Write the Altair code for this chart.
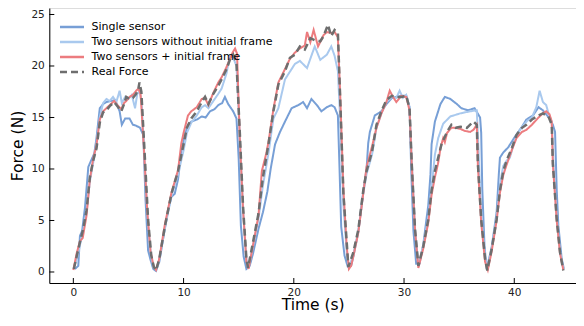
import altair as alt
import pandas as pd

series_names = ["Single sensor", "Two sensors without initial frame",
                "Two sensors + initial frame", "Real Force"]
series_colors = ["#779fd6", "#a9c9ee", "#ec7c7f", "#6e6e6e"]
series_dash = [[1, 0], [1, 0], [1, 0], [7, 4]]
series_width = [2.0, 2.0, 2.0, 2.5]

x_tick_values = [0, 10, 20, 30, 40]
y_tick_values = [0, 5, 10, 15, 20, 25]

single_t = [0.15, 0.45, 0.6, 0.8, 1.06, 1.36, 1.6, 1.9, 2.1, 2.4, 2.7, 3.0, 3.4, 3.8, 4.2, 4.4, 4.7, 5.1, 5.4, 5.7,
            6.05, 6.35, 6.55, 6.78, 7.0, 7.25, 7.5,
            7.8, 8.3, 8.6, 8.9, 9.2, 9.5, 9.8, 10.1, 10.4, 10.7, 11.2, 11.65, 12.0, 12.4, 12.8, 13.15, 13.5, 13.75,
            14.05, 14.5, 14.8, 15.0, 15.2, 15.45, 15.7,
            16.0, 16.3, 16.8, 17.2, 17.6, 17.9, 18.3, 18.75, 19.2, 19.8, 20.4, 20.85, 21.2, 21.6, 22.1, 22.5, 23.0,
            23.4, 23.7, 24.0, 24.15, 24.3, 24.6, 24.9,
            25.2, 25.4, 25.85, 26.3, 26.6, 26.75, 26.9, 27.35, 27.95, 28.4, 28.9, 29.3, 29.75, 30.2, 30.5, 30.65,
            30.85, 31.1,
            31.4, 31.75, 32.2, 32.4, 32.5, 32.8, 33.3, 33.7, 34.2, 34.8, 35.2, 35.8, 36.4, 36.9, 37.0, 37.1, 37.3, 37.5,
            37.95, 38.4, 38.6, 38.7, 39.0, 39.45, 40.1, 40.7, 41.1, 41.7, 42.2, 42.6, 43.2, 43.5, 43.7, 43.85, 44.0,
            44.3, 44.5]
single_f = [0.3, 0.6, 3.5, 4.0, 6.3, 10.2, 10.8, 11.5, 13.0, 15.9, 16.3, 16.5, 16.6, 16.7, 15.6, 14.3, 14.9, 14.9,
            14.3, 14.2, 14.0, 13.3, 7.0, 2.1, 1.2, 0.3, 0.1,
            1.0, 4.2, 6.0, 7.3, 7.6, 9.0, 11.7, 13.2, 14.3, 14.6, 14.8, 15.1, 15.0, 15.6, 15.8, 16.2, 16.4, 17.0,
            16.3, 15.6, 14.9, 11.0, 4.5, 1.5, 0.3,
            0.6, 1.8, 4.2, 5.8, 7.8, 10.0, 12.4, 13.6, 14.6, 15.9, 16.2, 16.5, 15.9, 16.8, 16.2, 15.6, 16.0, 16.2,
            16.0, 15.2, 10.0, 4.4, 1.6, 0.5,
            0.6, 1.5, 3.9, 7.8, 10.0, 12.5, 13.6, 15.2, 15.6, 16.3, 16.9, 17.0, 17.1, 17.1, 16.0, 10.0, 4.0, 0.8,
            0.8, 2.7, 6.5, 9.5, 12.4, 14.6, 16.3, 17.0, 16.8, 16.3, 15.9, 15.7, 15.9, 15.0, 13.5, 8.0, 2.5, 0.3,
            2.4, 5.8, 9.5, 11.1, 11.6, 12.1, 13.2, 14.1, 14.8, 15.2, 16.0, 15.7, 14.9, 14.3, 13.6, 8.0, 4.5, 1.3, 0.3]

light_t = [0.0, 0.3, 0.6, 0.9, 1.2, 1.5, 1.8, 2.1, 2.4, 2.7, 3.0, 3.3, 3.6, 3.9, 4.2, 4.4, 4.7, 5.0, 5.3, 5.6,
           5.8, 6.0, 6.2, 6.45, 6.75, 7.05, 7.3, 7.5,
           7.8, 8.3, 8.9, 9.5, 10.0, 10.3, 10.7, 11.2, 11.65, 11.95, 12.25, 12.7, 13.15, 13.45, 13.9, 14.2, 14.5,
           14.8, 15.1, 15.4, 15.7, 15.9,
           16.3, 16.8, 17.2, 17.7, 18.15, 18.6, 19.2, 19.8, 20.1, 20.55, 21.2, 21.6, 21.9, 22.4, 23.0, 23.4, 23.7,
           24.0, 24.2, 24.5, 24.8, 25.0,
           25.4, 25.85, 26.3, 26.6, 27.1, 27.5, 27.95, 28.4, 28.9, 29.3, 29.6, 29.9, 30.2, 30.5, 30.7, 31.0, 31.3,
           31.75, 32.2, 32.5, 32.8, 33.1, 33.55, 34.2, 35.1, 36.0, 36.6, 36.75, 37.0, 37.35, 37.55,
           37.95, 38.4, 38.7, 39.0, 39.3, 39.6, 40.0, 40.4, 40.8, 41.2, 41.6, 42.0, 42.3, 42.6, 42.9, 43.1, 43.4,
           43.55, 43.85, 44.15, 44.45]
light_f = [0.3, 1.2, 2.6, 4.0, 5.8, 8.8, 10.6, 12.5, 15.0, 16.4, 16.8, 16.6, 17.0, 16.5, 17.6, 16.4, 17.0, 16.8,
           17.2, 15.9, 17.3, 17.5, 16.5, 11.0, 5.0, 1.5, 0.4, 0.2,
           1.2, 4.2, 7.4, 9.5, 11.8, 13.5, 14.5, 15.2, 16.0, 16.2, 15.9, 16.6, 17.3, 17.8, 19.3, 21.0, 20.8, 20.0,
           13.2, 6.0, 1.2, 0.4,
           2.5, 5.2, 8.4, 11.5, 14.9, 15.9, 18.7, 19.7, 20.2, 20.5, 19.8, 21.0, 21.9, 20.6, 21.1, 21.9, 21.0, 19.5,
           15.0, 6.5, 2.0, 0.4,
           1.7, 3.9, 7.6, 9.5, 11.4, 14.0, 15.4, 16.5, 17.0, 16.9, 17.6, 16.9, 17.2, 16.0, 10.8, 4.2, 0.6,
           2.6, 5.3, 8.2, 11.4, 13.0, 14.4, 15.1, 15.4, 15.6, 15.7, 12.0, 5.5, 1.4, 0.3,
           2.3, 5.3, 8.5, 10.3, 10.8, 11.1, 12.6, 13.6, 14.2, 14.7, 15.0, 16.0, 17.6, 16.5, 16.2, 15.4, 14.6, 10.5,
           5.4, 2.0, 0.3]

red_t = [0.0, 0.3, 0.6, 0.85, 1.2, 1.5, 1.8, 2.1, 2.4, 2.7, 3.0, 3.3, 3.7, 4.0, 4.35, 4.6, 4.8, 5.1, 5.4, 5.7,
         5.9, 6.1, 6.4, 6.7, 7.0, 7.3, 7.5,
         7.8, 8.3, 8.9, 9.5, 9.8, 10.0, 10.4, 10.7, 11.2, 11.65, 11.95, 12.25, 12.7, 13.15, 13.45, 13.9, 14.2,
         14.45, 14.67, 14.85, 15.1, 15.4, 15.7, 15.9,
         16.3, 16.8, 17.1, 17.5, 17.7, 18.15, 18.6, 19.2, 19.65, 20.1, 20.55, 21.0, 21.2, 21.5, 21.8, 22.2, 22.7,
         23.0, 23.4, 23.7, 24.0, 24.2, 24.5, 24.8, 25.0, 25.2,
         25.4, 25.85, 26.3, 26.6, 27.1, 27.5, 27.95, 28.4, 28.7, 29.0, 29.3, 29.75, 30.2, 30.5, 30.7, 31.0, 31.3,
         31.75, 32.2, 32.5, 32.8, 33.1, 33.3, 33.55, 33.7, 33.9, 34.3, 34.7, 35.1, 35.5, 36.0, 36.3, 36.6, 36.7,
         37.0, 37.35, 37.6,
         37.95, 38.4, 38.7, 39.0, 39.3, 39.8, 40.2, 40.7, 41.1, 41.6, 42.2, 42.6, 42.9, 43.2, 43.4, 43.5, 43.85,
         44.15, 44.45]
red_f = [0.2, 1.8, 3.0, 3.3, 5.5, 9.0, 11.0, 12.3, 14.8, 15.6, 15.9, 16.2, 16.6, 16.2, 15.8, 16.4, 16.6, 17.0,
         17.2, 17.6, 17.8, 17.3, 12.0, 6.0, 2.0, 0.5, 0.2,
         1.3, 4.6, 7.7, 9.9, 12.5, 13.5, 15.2, 15.6, 16.0, 16.8, 16.9, 16.2, 17.4, 18.4, 18.9, 19.9, 20.7, 21.3,
         21.7, 21.2, 13.0, 6.0, 1.0, 0.3,
         2.6, 5.5, 9.8, 11.5, 12.6, 15.8, 18.4, 19.7, 20.7, 21.3, 21.7, 22.0, 23.3, 22.3, 23.5, 21.9, 23.0, 23.3,
         23.2, 23.3, 22.8, 17.5, 8.0, 2.5, 0.3, 0.6,
         1.5, 3.8, 7.6, 10.2, 12.2, 14.0, 15.4, 16.5, 17.6, 17.0, 16.5, 17.1, 17.0, 15.7, 10.5, 4.0, 0.4,
         2.3, 4.8, 7.5, 9.2, 10.6, 12.0, 13.0, 12.6, 13.5, 14.0, 14.0, 13.9, 13.7, 13.6, 13.8, 14.3, 10.3, 4.8,
         1.0, 0.2,
         2.0, 5.0, 7.7, 9.4, 10.4, 11.9, 13.0, 13.6, 13.8, 14.3, 15.0, 15.4, 15.6, 15.3, 14.6, 10.5, 5.0, 1.8, 0.2]

real_t = [0.05, 0.3, 0.6, 0.9, 1.2, 1.5, 1.8, 2.1, 2.4, 2.7, 3.0, 3.3, 3.7, 4.0, 4.35, 4.6, 4.8, 5.1, 5.4, 5.7,
          5.9, 6.0, 6.17, 6.47, 6.78, 7.07, 7.3, 7.5,
          7.8, 8.3, 8.9, 9.5, 10.0, 10.3, 10.7, 11.2, 11.65, 11.95, 12.25, 12.7, 13.15, 13.45, 13.9, 14.2, 14.5,
          14.8, 15.1, 15.4, 15.7, 15.85,
          16.3, 16.8, 17.2, 17.7, 18.15, 18.6, 19.2, 19.65, 20.1, 20.55, 21.0, 21.5, 21.9, 22.4, 22.7, 23.1, 23.4,
          23.7, 24.0, 24.2, 24.5, 24.8, 24.95,
          25.4, 25.85, 26.3, 26.6, 27.1, 27.5, 27.95, 28.4, 28.9, 29.3, 29.75, 30.2, 30.5, 30.7, 31.0, 31.3,
          31.75, 32.2, 32.5, 32.8, 33.1, 33.4, 33.9, 34.3, 34.7, 35.1, 35.7, 36.0, 36.3, 36.6, 36.7, 37.0, 37.35,
          37.55,
          37.95, 38.4, 38.7, 39.0, 39.3, 39.8, 40.2, 40.7, 41.1, 41.6, 42.2, 42.6, 43.1, 43.4, 43.5, 43.85, 44.15,
          44.45]
real_f = [0.3, 1.5, 2.9, 4.2, 6.0, 9.2, 10.8, 12.0, 14.5, 15.5, 15.7, 16.1, 16.5, 16.1, 15.6, 16.3, 17.0, 16.8,
          16.9, 17.3, 17.8, 18.4, 17.5, 11.5, 5.1, 1.6, 0.5, 0.15,
          1.3, 4.4, 7.6, 9.8, 12.4, 14.0, 14.9, 15.6, 16.5, 17.0, 16.3, 17.3, 18.1, 18.7, 19.7, 20.6, 21.1, 20.3,
          13.6, 6.3, 1.3, 0.4,
          2.9, 5.7, 9.2, 12.4, 15.6, 18.2, 19.5, 20.8, 21.1, 21.9, 21.6, 22.7, 22.5, 22.4, 22.9, 24.0, 22.9, 23.5,
          23.2, 17.1, 7.6, 2.9, 0.5,
          1.9, 4.1, 7.9, 9.8, 11.7, 14.3, 15.6, 16.7, 17.1, 17.0, 17.0, 17.1, 15.9, 10.5, 4.1, 0.6,
          2.5, 5.1, 7.9, 9.8, 11.1, 12.4, 13.6, 14.3, 14.0, 14.1, 14.0, 14.3, 14.6, 14.3, 10.5, 5.1, 1.3, 0.15,
          2.2, 5.1, 7.9, 9.8, 10.8, 12.1, 13.3, 14.0, 14.3, 14.8, 15.2, 15.4, 15.1, 14.3, 10.5, 5.1, 1.9, 0.15]

series_data = [(single_t, single_f), (light_t, light_f), (red_t, red_f), (real_t, real_f)]
rows = []
for name, (ts, fs) in zip(series_names, series_data):
    n = min(len(ts), len(fs))
    for t, f in zip(ts[:n], fs[:n]):
        rows.append({"series": name, "t": t, "F": f})
df = pd.DataFrame(rows)

FONT = "DejaVu Sans"
W, H = 526.7, 275

x_scale = alt.Scale(domain=[-2.18, 45.6], nice=False, zero=False)
y_scale = alt.Scale(domain=[-1.068, 25.631], nice=False, zero=False)

x_axis = alt.Axis(title="Time (s)", values=x_tick_values, ticks=False, grid=False,
                  domainColor="#000000", domainWidth=1, labelFontSize=10.5, labelColor="#222222",
                  labelPadding=4, labelFont=FONT, titleFont=FONT, titleFontSize=15.5,
                  titleFontWeight="normal", titleColor="#000000", titlePadding=0)
y_axis = alt.Axis(title="Force (N)", values=y_tick_values, ticks=False, grid=False,
                  domainColor="#000000", domainWidth=1, labelFontSize=10.5, labelColor="#222222",
                  labelPadding=5, labelFont=FONT, titleFont=FONT, titleFontSize=15.5,
                  titleFontWeight="normal", titleColor="#000000", titlePadding=5)

leg = alt.Legend(title=None, orient="none", legendX=17.2, legendY=13.5, padding=0,
                 symbolType="M-3,0L3,0", symbolSize=64, symbolStrokeWidth=2.5,
                 labelFont=FONT, labelFontSize=11, labelColor="#000000", labelOffset=14,
                 labelLimit=500, rowPadding=3)

color = alt.Color("series:N", scale=alt.Scale(domain=series_names, range=series_colors), legend=leg)
dash = alt.StrokeDash("series:N", scale=alt.Scale(domain=series_names, range=series_dash), legend=leg)

layers = []
for i, name in enumerate(series_names):
    layers.append(
        alt.Chart(df).transform_filter(alt.datum.series == name)
        .mark_line(strokeWidth=series_width[i], clip=True)
        .encode(x=alt.X("t:Q", scale=x_scale, axis=x_axis),
                y=alt.Y("F:Q", scale=y_scale, axis=y_axis),
                color=color, strokeDash=dash, order="t:Q")
    )

xt = pd.DataFrame({"t": x_tick_values})
yt = pd.DataFrame({"F": y_tick_values})
x_ticks = alt.Chart(xt).mark_rule(color="#000000", strokeWidth=1).encode(
    x=alt.X("t:Q", scale=x_scale, axis=x_axis), y=alt.value(H), y2=alt.value(H - 5))
y_ticks = alt.Chart(yt).mark_rule(color="#000000", strokeWidth=1).encode(
    y=alt.Y("F:Q", scale=y_scale, axis=y_axis), x=alt.value(0), x2=alt.value(5))

chart = alt.layer(*layers, x_ticks, y_ticks).properties(
    width=W, height=H,
    autosize=alt.AutoSizeParams(type="none"),
    padding={"left": 41.3, "top": 0, "right": 0, "bottom": 33},
).configure_view(stroke=None).configure(background="white")

chart.save("out.html", embed_options={"renderer": "svg", "actions": False})
